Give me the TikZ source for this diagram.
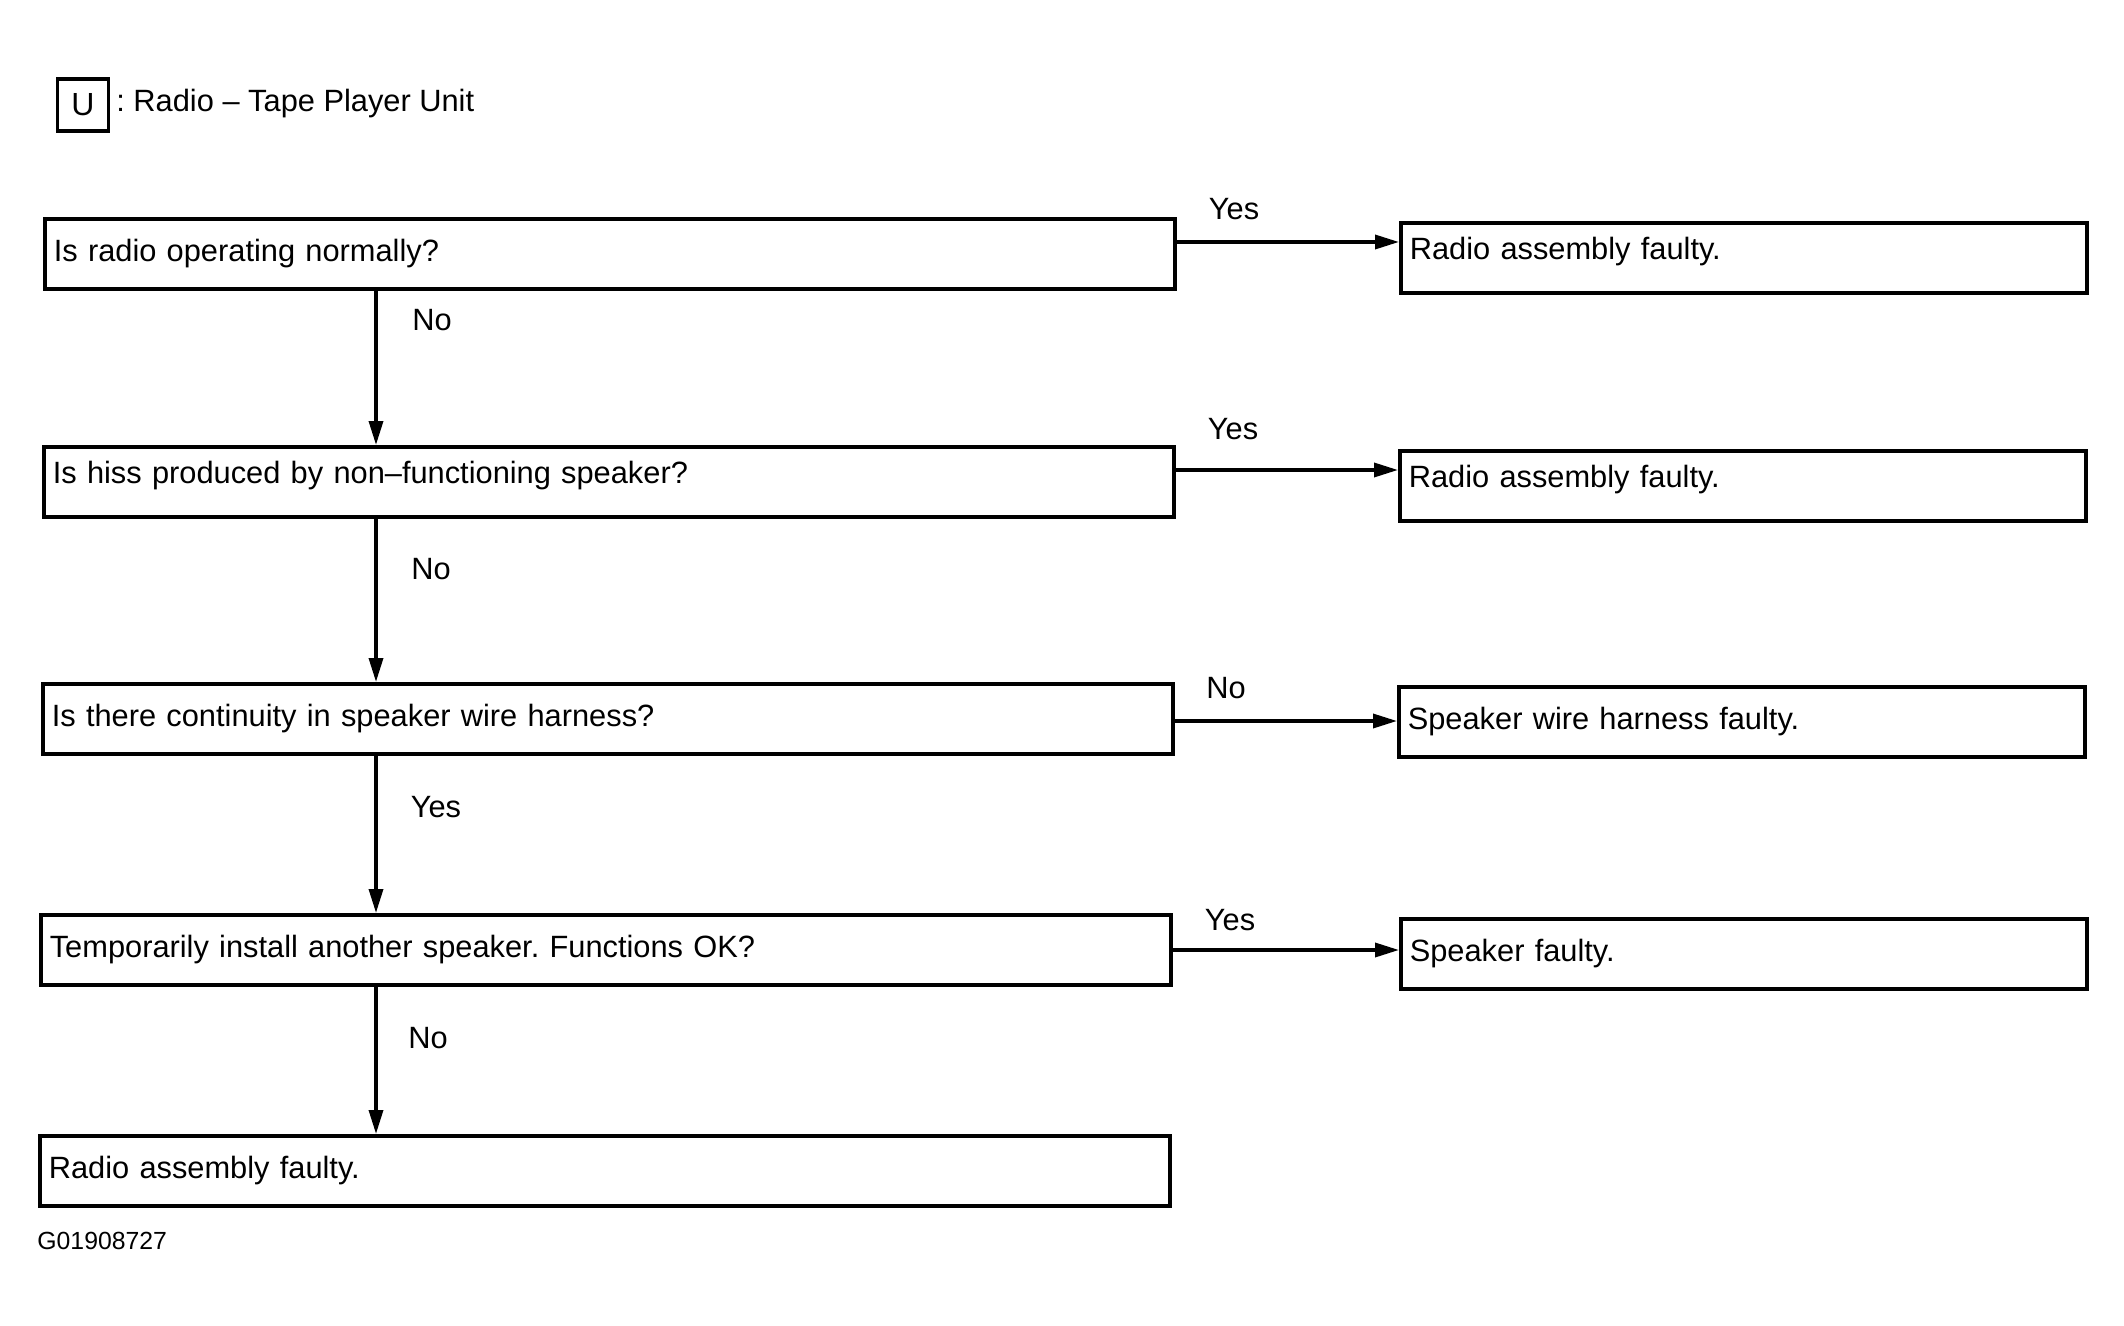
\documentclass[tikz,border=0pt]{standalone}
\usepackage{fontspec}
\setmainfont{Liberation Sans}
\usetikzlibrary{arrows.meta}
\frenchspacing
\begin{document}
\begin{tikzpicture}[x=0.5pt,y=-0.5pt,
  txt/.style={font=\fontsize{15.4}{18}\selectfont},
  box/.style={draw,line width=1.8pt,inner xsep=4.5pt,inner ysep=0pt,align=left,anchor=north west,txt},
  qbox/.style={box,text width=556pt,minimum height=35pt},
  rbox/.style={box,text width=334pt,minimum height=35pt},
  up/.style={text height=9pt,text depth=7pt},
  arr/.style={line width=1.7pt,-{Triangle[length=12pt,width=7pt]}},
  lab/.style={txt,inner sep=0pt}]
\useasboundingbox (0,0) rectangle (2124,1326);
% legend
\node[draw,line width=1.6pt,minimum width=25.5pt,minimum height=26pt,inner sep=0pt,font=\fontsize{16}{18}\selectfont] (ubox) at (83,105) {U};
\node[anchor=west,inner sep=0pt,font=\fontsize{15.4}{18}\selectfont] (legend) at (116,104) {: Radio -- Tape Player Unit};
% question boxes
\node[qbox] (q1) at (43,217) {Is radio operating normally?};
\node[qbox,up] (q2) at (42,445) {Is hiss produced by non--functioning speaker?};
\node[qbox] (q3) at (41,682) {Is there continuity in speaker wire harness?};
\node[qbox] (q4) at (39,913) {Temporarily install another speaker. Functions OK?};
\node[qbox] (q5) at (38,1134) {Radio assembly faulty.};
% result boxes
\node[rbox,up] (r1) at (1399,221) {Radio assembly faulty.};
\node[rbox,up] (r2) at (1398,449) {Radio assembly faulty.};
\node[rbox] (r3) at (1397,685) {Speaker wire harness faulty.};
\node[rbox] (r4) at (1399,917) {Speaker faulty.};
% helper coordinates
\coordinate (vx) at (376,0);
\coordinate (h1) at (0,242);
\coordinate (h2) at (0,470);
\coordinate (h3) at (0,721);
\coordinate (h4) at (0,950);
% vertical arrows
\draw[arr] (q1.south -| vx) -- (q2.north -| vx);
\draw[arr] (q2.south -| vx) -- (q3.north -| vx);
\draw[arr] (q3.south -| vx) -- (q4.north -| vx);
\draw[arr] (q4.south -| vx) -- (q5.north -| vx);
% horizontal arrows
\draw[arr] (q1.east |- h1) -- (r1.west |- h1);
\draw[arr] (q2.east |- h2) -- (r2.west |- h2);
\draw[arr] (q3.east |- h3) -- (r3.west |- h3);
\draw[arr] (q4.east |- h4) -- (r4.west |- h4);
% labels
\node[lab] (l1) at (1234,209) {Yes};
\node[lab] (l2) at (1233,429) {Yes};
\node[lab] (l3) at (1226,688) {No};
\node[lab] (l4) at (1230,920) {Yes};
\node[lab] (d1) at (432,320) {No};
\node[lab] (d2) at (431,569) {No};
\node[lab] (d3) at (436,807) {Yes};
\node[lab] (d4) at (428,1038) {No};
\node[anchor=west,inner sep=0pt,font=\fontsize{12.4}{14}\selectfont] (code) at (37,1241) {G01908727};
\end{tikzpicture}
\end{document}
